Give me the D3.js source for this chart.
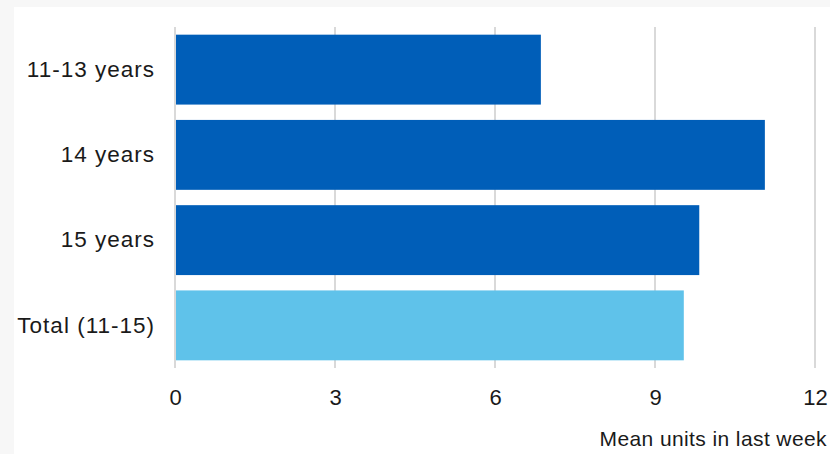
<!DOCTYPE html>
<html><head><meta charset="utf-8">
<script src="https://cdn.jsdelivr.net/npm/d3@7"></script>
<style>body{margin:0;background:#f7f7f7;} svg{display:block;}</style>
</head><body>
<svg id="c" width="830" height="454"></svg>
<script>
const categories = ["11-13 years", "14 years", "15 years", "Total (11-15)"];
const values = [6.86, 11.06, 9.83, 9.54];
const tickValues = [0, 3, 6, 9, 12];
const barColors = ["#005EB8", "#005EB8", "#005EB8", "#5FC2EA"];
const axisTitle = "Mean units in last week";

const FONT = "'Liberation Sans', Arial, sans-serif";
const svg = d3.select("#c");
svg.append("rect").attr("x", 0).attr("y", 0).attr("width", 830).attr("height", 454).attr("fill", "#f7f7f7");
svg.append("rect").attr("x", 14).attr("y", 7).attr("width", 816).attr("height", 447).attr("fill", "#ffffff");

const x = d3.scaleLinear().domain([0, 12]).range([175, 815]);
const y = d3.scaleBand().domain(categories).range([27, 368]).paddingInner(0.18).paddingOuter(0.09);

// gridlines
svg.append("g").selectAll("line").data(tickValues.filter(d => d > 0)).join("line")
  .attr("x1", d => x(d)).attr("x2", d => x(d)).attr("y1", 27).attr("y2", 368)
  .attr("stroke", "#d9d9d9").attr("stroke-width", 2);

// bars
svg.append("g").selectAll("rect").data(categories).join("rect")
  .attr("x", x(0) + 1)
  .attr("y", d => y(d))
  .attr("width", (d, i) => x(values[i]) - x(0) - 1)
  .attr("height", y.bandwidth())
  .attr("fill", (d, i) => barColors[i]);

// axis line
svg.append("line").attr("x1", x(0)).attr("x2", x(0)).attr("y1", 27).attr("y2", 368)
  .attr("stroke", "#d9d9d9").attr("stroke-width", 2);

// x tick labels
const xAxis = d3.axisBottom(x).tickValues(tickValues).tickSize(0).tickPadding(0);
const gx = svg.append("g").attr("transform", "translate(0,389)").call(xAxis);
gx.select(".domain").remove();
gx.selectAll("text").attr("dy", "0.71em").attr("font-family", FONT)
  .attr("font-size", 22).attr("fill", "#1a1a1a");

// y labels
const yAxis = d3.axisLeft(y).tickSize(0).tickPadding(0);
const gy = svg.append("g").attr("transform", "translate(155,0)").call(yAxis);
gy.select(".domain").remove();
gy.selectAll("text").attr("font-family", FONT)
  .attr("font-size", 22.5).attr("fill", "#1a1a1a").attr("letter-spacing", "1px");

// axis title
svg.append("text").attr("x", 827).attr("y", 446).attr("text-anchor", "end")
  .attr("font-family", FONT).attr("font-size", 21)
  .attr("letter-spacing", "0.4px").attr("fill", "#1a1a1a").text(axisTitle);
</script>
</body></html>
